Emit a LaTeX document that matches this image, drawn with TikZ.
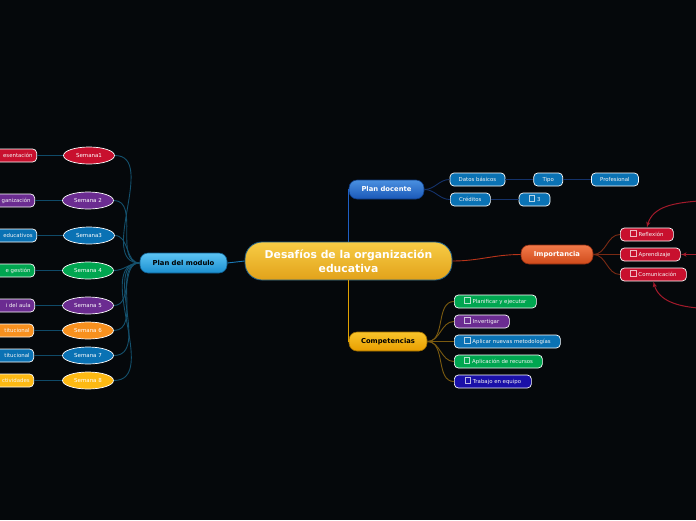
\documentclass[tikz,border=0pt]{standalone}
\usepackage{fontspec}
\setmainfont{DejaVu Sans}
\usepackage{xcolor}
\usetikzlibrary{shapes.geometric, arrows, positioning}

\definecolor{bgdark}{HTML}{05080B}
\definecolor{leafblue}{HTML}{0A72B4}
\definecolor{leafred}{HTML}{C8102E}
\definecolor{leafgreen}{HTML}{00A650}
\definecolor{leafpurple}{HTML}{6B2C91}
\definecolor{leafnavy}{HTML}{1A10A8}
\definecolor{leaforange}{HTML}{F7901E}
\definecolor{leafyellow}{HTML}{FDB913}
\definecolor{linkred}{HTML}{A31A2B}
\definecolor{centralborder}{HTML}{1F5F8A}

\newcommand{\chk}{\tikz[baseline=-0.6pt]\draw[sharp corners, white, draw opacity=0.7, line width=0.4pt] (0pt,0pt) rectangle (5.5pt,5.5pt);\hspace{2.5pt}}

\begin{document}
\begin{tikzpicture}[x=1pt, y={(0pt,-1pt)}, node distance=28pt, auto]
        \tikzstyle{central} = [rectangle, rounded corners=17pt, draw=centralborder, line width=0.8pt, minimum width=207pt, minimum height=38pt, align=center, text=white, font=\bfseries\fontsize{10.8}{14}\selectfont]
        \tikzstyle{branch} = [rectangle, rounded corners=8pt, minimum height=19pt, line width=0.6pt, inner sep=0pt, text height=5.6pt, text depth=1.2pt, font=\bfseries\fontsize{6.8}{8}\selectfont]
        \tikzstyle{leaf} = [rectangle, rounded corners=4pt, draw=white, line width=0.7pt, minimum height=13pt, inner xsep=4pt, inner ysep=0pt, text height=5pt, text depth=1pt, text=white!92!gray, font=\fontsize{5.4}{6}\selectfont]
        \tikzstyle{week} = [ellipse, draw=white, line width=0.7pt, minimum width=51pt, minimum height=17pt, inner sep=0pt, text height=5pt, text depth=1pt, text=white, font=\fontsize{5.5}{6}\selectfont]
        \tikzstyle{cutleaf} = [leaf, anchor=east, text width=62pt, align=right]
        \tikzstyle{line} = [draw, line width=0.9pt]
        \tikzstyle{link} = [draw, -latex', line width=1pt, color=linkred]

        \useasboundingbox (0,0) rectangle (696,520);
        \clip (0,0) rectangle (696,520);
        \fill [bgdark] (0,0) rectangle (696,520);

        % central topic and main branches
        \node [central, top color={rgb,255:red,247;green,204;blue,69}, bottom color={rgb,255:red,226;green,162;blue,26}] (desafios) at (348.5,261) {Desafíos de la organización\\educativa};
        \node [branch, text=white, draw={rgb,255:red,14;green,58;blue,128}, top color={rgb,255:red,74;green,144;blue,224}, bottom color={rgb,255:red,26;green,88;blue,184}, minimum width=75pt] (plandoc) at (386.5,189.5) {Plan docente};
        \node [branch, text=white, draw={rgb,255:red,138;green,42;blue,16}, top color={rgb,255:red,242;green,122;blue,74}, bottom color={rgb,255:red,207;green,74;blue,26}, minimum width=72pt] (importancia) at (557,254.5) {Importancia};
        \node [branch, text=black, draw={rgb,255:red,154;green,106;blue,0}, top color={rgb,255:red,249;green,196;blue,42}, bottom color={rgb,255:red,232;green,158;blue,0}, minimum width=78pt] (competencias) at (388,341.5) {Competencias};
        \node [branch, text=black, draw={rgb,255:red,15;green,90;blue,138}, top color={rgb,255:red,92;green,196;blue,244}, bottom color={rgb,255:red,27;green,143;blue,208}, minimum width=87pt, minimum height=20pt] (modulo) at (183.5,263) {Plan del modulo};

        % plan docente
        \node [leaf, fill=leafblue, minimum width=55pt] (datos) at (477.5,179.5) {Datos básicos};
        \node [leaf, fill=leafblue, minimum width=29pt, right=of datos] (tipo) {Tipo};
        \node [leaf, fill=leafblue, minimum width=47pt, right=of tipo] (profesional) {Profesional};
        \node [leaf, fill=leafblue, minimum width=40pt, anchor=west] (creditos) at (450,199.5) {Créditos};
        \node [leaf, fill=leafblue, minimum width=31pt, right=of creditos] (tres) {\chk 3};

        % importancia
        \node [leaf, fill=leafred, minimum width=53pt, anchor=west] (reflexion) at (620,234.5) {\chk Reflexión};
        \node [leaf, fill=leafred, minimum width=60pt, anchor=west] (aprendizaje) at (620,254.5) {\chk Aprendizaje};
        \node [leaf, fill=leafred, minimum width=66pt, anchor=west] (comunicacion) at (620,274.5) {\chk Comunicación};

        % competencias
        \node [leaf, fill=leafgreen, minimum width=82pt, anchor=west] (planificar) at (454,301.5) {\chk Planificar y ejecutar};
        \node [leaf, fill=leafpurple, minimum width=55pt, anchor=west] (invertigar) at (454,321.5) {\chk Invertigar};
        \node [leaf, fill=leafblue, minimum width=106pt, anchor=west] (aplicar) at (454,341.5) {\chk Aplicar nuevas metodologías};
        \node [leaf, fill=leafgreen, minimum width=88pt, anchor=west] (recursos) at (454,361.5) {\chk Aplicación de recursos};
        \node [leaf, fill=leafnavy, minimum width=77pt, anchor=west] (equipo) at (454,381.5) {\chk Trabajo en equipo};

        % plan del modulo
        \node [week, fill=leafred] (sem1) at (89,155.5) {Semana1};
        \node [week, fill=leafpurple] (sem2) at (88,200.5) {Semana 2};
        \node [week, fill=leafblue] (sem3) at (89,235.5) {Semana3};
        \node [week, fill=leafgreen] (sem4) at (88,270.5) {Semana 4};
        \node [week, fill=leafpurple] (sem5) at (88,305.5) {Semana 5};
        \node [week, fill=leaforange] (sem6) at (88,330.5) {Semana 6};
        \node [week, fill=leafblue] (sem7) at (88,355.5) {Semana 7};
        \node [week, fill=leafyellow] (sem8) at (88,380.5) {Semana 8};

        \node [cutleaf, fill=leafred] (pres) at (37,155.5) {esentación};
        \node [cutleaf, fill=leafpurple] (orga) at (35,200.5) {ganización};
        \node [cutleaf, fill=leafblue] (educ) at (37,235.5) {educativos};
        \node [cutleaf, fill=leafgreen] (gest) at (35,270.5) {e gestión};
        \node [cutleaf, fill=leafpurple] (aula) at (35,305.5) {i del aula};
        \node [cutleaf, fill=leaforange] (inst1) at (34,330.5) {titucional};
        \node [cutleaf, fill=leafblue] (inst2) at (34,355.5) {titucional};
        \node [cutleaf, fill=leafyellow] (activ) at (34,380.5) {ctividades};

        % connectors
        \path [line, draw={rgb,255:red,30;green,95;blue,196}] (desafios.north) |- (plandoc.west);
        \path [line, draw={rgb,255:red,224;green,160;blue,0}] (desafios.south) |- (competencias.west);
        \path [line, draw={rgb,255:red,184;green,52;blue,26}] (desafios.east) to[out=0, in=180] (importancia.west);
        \path [line, draw={rgb,255:red,26;green,122;blue,184}] (desafios.west) -- (modulo.east);

        \path [line, draw={rgb,255:red,20;green,50;blue,106}] (plandoc.east) to[out=0, in=180] (datos.west);
        \path [line, draw={rgb,255:red,20;green,50;blue,106}] (plandoc.east) to[out=0, in=180] (creditos.west);
        \path [line, draw={rgb,255:red,20;green,50;blue,106}] (datos) -- (tipo);
        \path [line, draw={rgb,255:red,20;green,50;blue,106}] (tipo) -- (profesional);
        \path [line, draw={rgb,255:red,20;green,50;blue,106}] (creditos) -- (tres);

        \path [line, draw={rgb,255:red,122;green,42;blue,20}] (importancia.east) to[out=0, in=180] (reflexion.west);
        \path [line, draw={rgb,255:red,122;green,42;blue,20}] (importancia.east) to[out=0, in=180] (aprendizaje.west);
        \path [line, draw={rgb,255:red,122;green,42;blue,20}] (importancia.east) to[out=0, in=180] (comunicacion.west);

        \path [line, draw={rgb,255:red,122;green,90;blue,16}] (competencias.east) to[out=0, in=180] (planificar.west);
        \path [line, draw={rgb,255:red,122;green,90;blue,16}] (competencias.east) to[out=0, in=180] (invertigar.west);
        \path [line, draw={rgb,255:red,122;green,90;blue,16}] (competencias.east) to[out=0, in=180] (aplicar.west);
        \path [line, draw={rgb,255:red,122;green,90;blue,16}] (competencias.east) to[out=0, in=180] (recursos.west);
        \path [line, draw={rgb,255:red,122;green,90;blue,16}] (competencias.east) to[out=0, in=180] (equipo.west);

        \path [line, draw={rgb,255:red,20;green,80;blue,108}] (modulo.west) to[out=180, in=0] (sem1.east);
        \path [line, draw={rgb,255:red,20;green,80;blue,108}] (modulo.west) to[out=180, in=0] (sem2.east);
        \path [line, draw={rgb,255:red,20;green,80;blue,108}] (modulo.west) to[out=180, in=0] (sem3.east);
        \path [line, draw={rgb,255:red,20;green,80;blue,108}] (modulo.west) to[out=180, in=0] (sem4.east);
        \path [line, draw={rgb,255:red,20;green,80;blue,108}] (modulo.west) to[out=180, in=0] (sem5.east);
        \path [line, draw={rgb,255:red,20;green,80;blue,108}] (modulo.west) to[out=180, in=0] (sem6.east);
        \path [line, draw={rgb,255:red,20;green,80;blue,108}] (modulo.west) to[out=180, in=0] (sem7.east);
        \path [line, draw={rgb,255:red,20;green,80;blue,108}] (modulo.west) to[out=180, in=0] (sem8.east);

        \path [line, draw={rgb,255:red,15;green,74;blue,104}] (sem1) -- (pres);
        \path [line, draw={rgb,255:red,15;green,74;blue,104}] (sem2) -- (orga);
        \path [line, draw={rgb,255:red,15;green,74;blue,104}] (sem3) -- (educ);
        \path [line, draw={rgb,255:red,15;green,74;blue,104}] (sem4) -- (gest);
        \path [line, draw={rgb,255:red,15;green,74;blue,104}] (sem5) -- (aula);
        \path [line, draw={rgb,255:red,15;green,74;blue,104}] (sem6) -- (inst1);
        \path [line, draw={rgb,255:red,15;green,74;blue,104}] (sem7) -- (inst2);
        \path [line, draw={rgb,255:red,15;green,74;blue,104}] (sem8) -- (activ);

        % links coming from outside the view
        \coordinate (fromtop) at (698,201);
        \coordinate (frommid) at (698,254.5);
        \coordinate (frombot) at (698,308);
        \path [link] (fromtop) to[out=185, in=75] (reflexion.north);
        \path [link] (frommid) -- (aprendizaje.east);
        \path [link] (frombot) to[out=175, in=-75] (comunicacion.south);
    \end{tikzpicture}
\end{document}
